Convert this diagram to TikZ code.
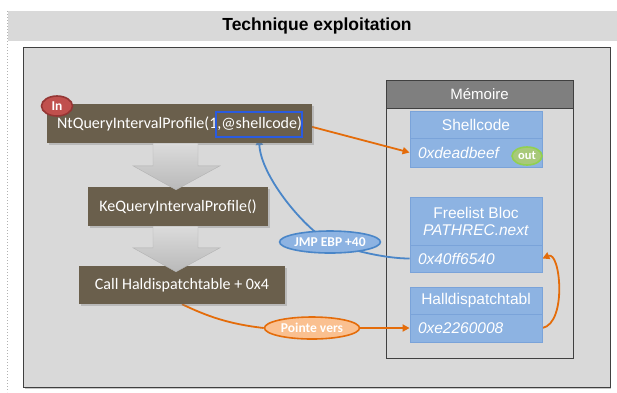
\documentclass[tikz,border=0pt]{standalone}
\usepackage{fontspec}
\setmainfont{Liberation Sans}
\newfontfamily\calfont{Carlito}
\usetikzlibrary{calc,arrows.meta,shadows,shapes.geometric}
\definecolor{bandgray}{HTML}{D9D9D9}
\definecolor{panelgray}{HTML}{D9D9D9}
\definecolor{darkline}{HTML}{404040}
\definecolor{brownbox}{HTML}{6A5F4C}
\definecolor{memhead}{HTML}{7F7F7F}
\definecolor{blockblue}{HTML}{8DB3E2}
\definecolor{blockline}{HTML}{7AA3D9}
\definecolor{hiblue}{HTML}{2A5BE0}
\definecolor{orangeln}{HTML}{E46C0A}
\definecolor{orangefill}{HTML}{FAC090}
\definecolor{jmpline}{HTML}{4A86C8}
\definecolor{redfill}{HTML}{C0504D}
\definecolor{redline}{HTML}{943634}
\definecolor{greenfill}{HTML}{A8C97A}
\definecolor{greenline}{HTML}{92D050}
\pgfdeclarelayer{back}
\pgfdeclarelayer{mid}
\pgfsetlayers{back,mid,main}
\begin{document}
\begin{tikzpicture}[x=1pt,y=-1pt,
  brownstep/.style={fill=brownbox, text=white, font=\calfont\fontsize{16}{18}\selectfont,
    inner sep=0pt, minimum height=39pt,
    drop shadow={shadow xshift=1.5pt,shadow yshift=-1.5pt,opacity=.35}},
  memblock/.style={fill=blockblue, draw=blockline, line width=0.8pt, text=white,
    font=\fontsize{15.5}{18}\selectfont, minimum width=132pt, inner sep=0pt},
  memval/.style={memblock, font=\fontsize{15.5}{18}\selectfont\itshape,
    text width=116pt, align=left, inner xsep=8pt},
  tag/.style={ellipse, text=white, font=\calfont\bfseries\fontsize{13.5}{15}\selectfont,
    inner sep=0pt, line width=1.6pt},
  bigarrow/.style={top color=gray!28, bottom color=gray!55, draw=gray!60, line width=0.4pt},
  oline/.style={draw=orangeln, line width=1.8pt},
  oarrow/.style={oline, -{Triangle[length=7pt,width=7pt]}},
  barrow/.style={draw=jmpline, line width=1.8pt, -{Triangle[length=7pt,width=7pt]}}
]
\useasboundingbox (0,0) rectangle (617,392);

\begin{pgfonlayer}{back}
  \fill[bandgray] (8,11) rectangle (617,40.5);
  \draw[gray!60, line width=1.2pt, dash pattern=on 1pt off 2pt] (7.5,11) -- (7.5,392);
  \fill[black!22] (24.5,48.5) rectangle (611,388.5);
  \draw[darkline, fill=panelgray, line width=0.9pt] (23.5,47.5) rectangle (610,387);
  % memory container
  \node[fill=panelgray, draw=darkline, line width=0.9pt, minimum width=187pt, minimum height=278pt,
        inner sep=0pt, drop shadow={shadow xshift=1pt,shadow yshift=-1pt,opacity=.3}] (mem) at (479.5,219) {};
  \node[fill=memhead, draw=darkline, line width=0.9pt, minimum width=187pt, minimum height=28pt,
        inner sep=0pt, text=white, font=\fontsize{15}{18}\selectfont] (memh) at (479.5,94) {Mémoire};
\end{pgfonlayer}

\node[font=\bfseries\fontsize{17.5}{20}\selectfont] (title) at (317,26) {Technique exploitation};

\node[memblock, minimum height=27pt] (sch) at (476,124.5) {Shellcode};
\node[memval, minimum height=29pt] (scv) at (476,152.5) {0xdeadbeef};
\node[memblock, minimum height=48pt, align=center] (flh) at (476,221)
  {Freelist Bloc\\[-1pt]\textit{PATHREC.next}};
\node[memval, minimum height=27pt] (flv) at (476,258.5) {0x40ff6540};
\node[memblock, minimum height=27pt] (hdh) at (476,300.5) {Halldispatchtabl};
\node[memval, minimum height=28pt] (hdv) at (476,328) {0xe2260008};

\node[tag, fill=greenfill, draw=greenline, minimum width=30pt, minimum height=18pt,
      font=\calfont\bfseries\fontsize{12.5}{14}\selectfont] (out) at (527,156) {\raisebox{-2pt}{out}};

% left flow
\node[brownstep, minimum width=265pt] (nt) at (179.5,123.5) {NtQueryIntervalProfile(1,@shellcode)};
\node[brownstep, minimum width=180pt] (ke) at (178,206.5) {KeQueryIntervalProfile()};
\node[brownstep, minimum width=206pt, minimum height=38pt] (call) at (182,285) {Call Haldispatchtable + 0x4};
\node[draw=hiblue, line width=2.2pt, minimum width=86pt, minimum height=25pt, inner sep=0pt] (arg) at (259,124.5) {};

\node[tag, fill=redfill, draw=redline, minimum width=31pt, minimum height=20pt] (in) at (57,106) {In};

% big block arrows
\path[bigarrow] let \p1=(nt.south), \p2=(ke.north) in
  (153pt,\y1) -- (198pt,\y1) -- (198pt,\y2+21pt) -- (220pt,\y2+21pt) -- (176pt,\y2-3pt)
  -- (133pt,\y2+21pt) -- (153pt,\y2+21pt) -- cycle;
\path[bigarrow] let \p1=(ke.south), \p2=(call.north) in
  (153pt,\y1) -- (198pt,\y1) -- (198pt,\y2+18pt) -- (220pt,\y2+18pt) -- (176pt,\y2-6pt)
  -- (133pt,\y2+18pt) -- (153pt,\y2+18pt) -- cycle;

% tags on connectors
\node[tag, fill=blockblue, draw=jmpline, minimum width=95pt, minimum height=22pt] (jmp) at (330,242) {JMP EBP +40};
\node[tag, fill=orangefill, draw=orangeln, minimum width=95pt, minimum height=22pt] (pv) at (312,328) {Pointe vers};

% connectors
\begin{pgfonlayer}{mid}
  \draw[oarrow] (arg.east) -- (scv.west);
  \draw[barrow] (flv.west) .. controls +(-25,0) and +(20,8) .. (jmp.center)
     .. controls +(-22,-10) and +(2,40) .. (arg.south);
  \draw[oline] (call.south) .. controls +(25,12) and +(-35,-4) .. (pv.west);
  \draw[oarrow] (pv.east) -- (hdv.west);
  \draw[oarrow] (hdv.east) .. controls +(25,-5) and +(18,-8) .. (flv.east);
\end{pgfonlayer}
\end{tikzpicture}
\end{document}
